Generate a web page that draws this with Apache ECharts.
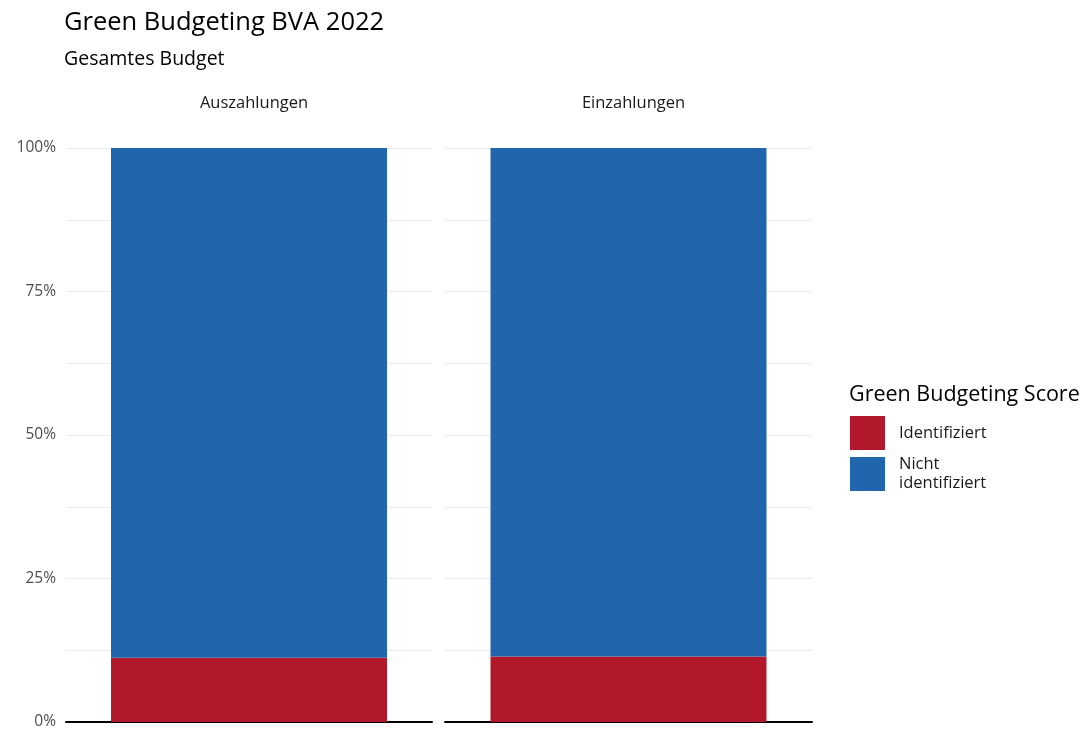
<!DOCTYPE html>
<html>
<head>
<meta charset="utf-8">
<script src="https://cdn.jsdelivr.net/npm/echarts@6/dist/echarts.min.js"></script>
<style>
  html, body { margin: 0; padding: 0; background: #ffffff; }
  #chart { width: 1086px; height: 731px; }
</style>
</head>
<body>
<div id="chart"></div>
<script>
// Share of the total budget (%) per facet
const panels = ['Auszahlungen', 'Einzahlungen'];
const identifiziert = [11.2, 11.4];
const nichtIdentifiziert = [88.8, 88.6];
const seriesNames = ['Identifiziert', 'Nicht\nidentifiziert'];
const colors = ['#b2182b', '#2166ac'];
const yTicks = [0, 25, 50, 75, 100];

const FONT = '"Open Sans", "Noto Sans", sans-serif';
const chart = echarts.init(document.getElementById('chart'));

const gridDefs = [
  { left: 66, width: 366, top: 148, height: 574 },
  { left: 445, width: 367, top: 148, height: 574 }
];

const xAxes = [], yAxes = [], series = [], facetTitles = [];
panels.forEach((p, i) => {
  xAxes.push({
    type: 'category', gridIndex: i, data: [p],
    axisLine: { show: true, lineStyle: { color: '#000', width: 2 } },
    axisTick: { show: false }, axisLabel: { show: false }
  });
  yAxes.push({
    type: 'value', gridIndex: i, min: 0, max: 100, interval: 12.5,
    axisLine: { show: false }, axisTick: { show: false },
    axisLabel: {
      show: i === 0, color: '#4d4d4d', fontFamily: FONT, fontSize: 15.5, margin: 10,
      formatter: v => (yTicks.indexOf(v) >= 0 ? v + '%' : '')
    },
    splitLine: { lineStyle: { color: '#ebebeb', width: 1.2 } }
  });
  series.push({
    name: seriesNames[0], type: 'bar', stack: 's' + i, xAxisIndex: i, yAxisIndex: i,
    data: [identifiziert[i]], barWidth: 276, itemStyle: { color: colors[0] }
  });
  series.push({
    name: seriesNames[1], type: 'bar', stack: 's' + i, xAxisIndex: i, yAxisIndex: i,
    data: [nichtIdentifiziert[i]], barWidth: 276, itemStyle: { color: colors[1] }
  });
  facetTitles.push({
    text: p, left: gridDefs[i].left + gridDefs[i].width / 2, top: 90, textAlign: 'center',
    textStyle: { fontFamily: FONT, fontSize: 16.5, fontWeight: 'normal', color: '#1a1a1a' }
  });
});

chart.setOption({
  animation: false,
  backgroundColor: '#ffffff',
  title: [
    { text: 'Green Budgeting BVA 2022', left: 59, top: 5,
      textStyle: { fontFamily: FONT, fontSize: 25.5, fontWeight: 'normal', color: '#000' } },
    { text: 'Gesamtes Budget', left: 59, top: 44,
      textStyle: { fontFamily: FONT, fontSize: 19.5, fontWeight: 'normal', color: '#000' } },
    { text: 'Green Budgeting Score', left: 844, top: 379,
      textStyle: { fontFamily: FONT, fontSize: 21.5, fontWeight: 'normal', color: '#000' } }
  ].concat(facetTitles),
  legend: {
    orient: 'vertical', left: 845, top: 411,
    itemWidth: 35, itemHeight: 34, itemGap: 5, icon: 'rect',
    data: seriesNames,
    textStyle: { fontFamily: FONT, fontSize: 16.5, color: '#1a1a1a', lineHeight: 19, padding: [0, 0, 0, 9] }
  },
  grid: gridDefs,
  xAxis: xAxes,
  yAxis: yAxes,
  series: series
});
</script>
</body>
</html>
